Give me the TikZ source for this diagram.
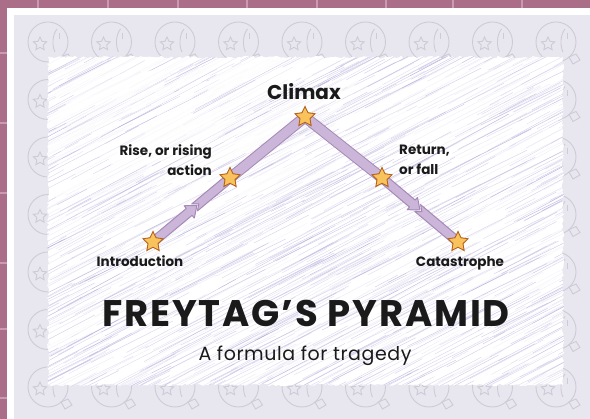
\documentclass[tikz,border=0pt]{standalone}
\usepackage{fontspec}
\setmainfont{Poppins}
\usetikzlibrary{shapes.geometric,decorations.pathmorphing,decorations.markings}

\definecolor{mauve}{HTML}{AB6E89}
\definecolor{gridpink}{HTML}{C99AB0}
\definecolor{mat}{HTML}{E8E6EE}
\definecolor{ghostgrey}{HTML}{CFCBD6}
\definecolor{hatch}{HTML}{9D90D0}
\definecolor{bandfill}{HTML}{CBB6D9}
\definecolor{bandedge}{HTML}{A58AB6}
\definecolor{stargold}{HTML}{F8C35C}
\definecolor{staredge}{HTML}{B4621D}
\definecolor{ink}{HTML}{1A1A1A}

\pgfdeclarelayer{back}
\pgfdeclarelayer{mid}
\pgfsetlayers{back,mid,main}

\tikzset{
  starnode/.style={star, star points=5, star point ratio=2.0, minimum size=21pt,
    inner sep=0pt, fill=stargold, draw=staredge, line width=0.9pt},
  bandline/.style={draw=bandedge, line width=1pt, double=bandfill, double distance=9pt},
  arrowband/.style={decoration={markings, mark=at position 0 with {
      \pgfmathsetmacro\L{\pgfdecoratedpathlength}
      \pgfmathsetmacro\A{#1*\L}
      \filldraw[bandfill, draw=bandedge, line width=1pt, line join=round]
        (0,4.5) -- (\A-10,4.5) -- (\A-10,8) -- (\A,0) -- (\A-10,-8) -- (\A-10,-4.5) -- (0,-4.5) -- cycle;
      \filldraw[bandfill, draw=bandedge, line width=1pt, line join=round]
        (\A-3,4.5) -- (\L,4.5) -- (\L,-4.5) -- (\A-3,-4.5) -- (\A+2.5,0) -- cycle;
    }}, postaction={decorate}},
  labelfont/.style={font=\fontsize{13.5}{16}\selectfont\bfseries, text=ink, inner sep=0pt},
  ghosticon/.pic={
    \draw[ghostgrey, line width=0.9pt] (0,0) circle (20);
    \node[star, star points=5, star point ratio=2.1, minimum size=14pt, inner sep=0pt,
      draw=ghostgrey, line width=0.9pt] at (-8,2) {};
    \draw[ghostgrey, line width=0.9pt] (9,-13) .. controls (4,-7) and (4,4) .. (7,10);
    \draw[ghostgrey, line width=0.9pt] (11,-9) -- (11,-3);
    \draw[ghostgrey, line width=0.9pt] (13,15) -- (20,12) -- (24,18) -- (17,22) -- cycle;
  }
}

\begin{document}
\begin{tikzpicture}[x=1pt, y=-1pt]
\useasboundingbox (0,0) rectangle (590,419);

\begin{pgfonlayer}{back}
  % tiled backdrop
  \fill[mauve] (0,0) rectangle (590,419);
  \foreach \gx in {38,108,178,247,317,386,453,522}
    \draw[gridpink, line width=1.3pt] (\gx,0) -- (\gx,419);
  \foreach \gy in {53,123,193,263,329,398}
    \draw[gridpink, line width=1.3pt] (0,\gy) -- (590,\gy);
  % white frame and grey mat
  \fill[white] (7,8) rectangle (590,419);
  \fill[mat] (14,15) rectangle (590,419);
  % faint icon wallpaper
  \foreach \cx in {0,...,8}
    \foreach \cy in {0,...,6}
      \pic at (48+63.5*\cx, 42+57.5*\cy) {ghosticon};
  % scribbled white panel
  \begin{scope}
    \path[clip, decorate, decoration={random steps, segment length=2.5pt, amplitude=1.2pt}]
      (48,57) rectangle (563,385);
    \fill[white] (0,0) rectangle (590,419);
    \pgfmathsetseed{11}
    \foreach \i in {1,...,1500}{
      \pgfmathsetmacro\xa{-60+rnd*640}
      \pgfmathsetmacro\ya{60+rnd*400}
      \pgfmathsetmacro\len{25+rnd*110}
      \pgfmathsetmacro\op{0.10+0.38*rnd}
      \pgfmathsetmacro\ang{-26-3*rnd}
      \draw[hatch, opacity=\op, line width=0.45pt] (\xa,\ya) -- ++(\ang:\len);
    }
    % lighter wash toward the upper left
    \pgfmathsetseed{5}
    \foreach \i in {1,...,90}{
      \pgfmathsetmacro\xa{0+rnd*260}
      \pgfmathsetmacro\ya{70+rnd*140}
      \pgfmathsetmacro\len{50+rnd*140}
      \draw[white, opacity=0.75, line width=3pt] (\xa,\ya) -- ++(-28:\len);
    }
    \foreach \i in {1,...,50}{
      \pgfmathsetmacro\xa{-40+rnd*600}
      \pgfmathsetmacro\ya{60+rnd*380}
      \pgfmathsetmacro\len{60+rnd*160}
      \draw[white, opacity=0.6, line width=2.5pt] (\xa,\ya) -- ++(-28:\len);
    }
  \end{scope}
\end{pgfonlayer}

% the five points of the plot
\node[starnode] (intro)  at (153,242) {};
\node[starnode] (rise)   at (230,178) {};
\node[starnode] (climax) at (305,117) {};
\node[starnode] (fall)   at (382,178) {};
\node[starnode] (cat)    at (458,242) {};

\begin{pgfonlayer}{mid}
  \path[arrowband=0.57] (intro.center) -- (rise.center);
  \draw[bandline] (rise.center) -- (climax.center);
  \draw[bandline] (climax.center) -- (fall.center);
  \path[arrowband=0.5] (fall.center) -- (cat.center);
\end{pgfonlayer}

% labels
\node[font=\fontsize{20}{24}\selectfont\bfseries, text=ink, inner sep=0pt, anchor=base] (tclimax) at (304,100) {Climax};
\node[labelfont, anchor=base east] (trise1) at (212,156) {Rise, or rising};
\node[labelfont, anchor=base east] (trise2) at (212,176) {action};
\node[labelfont, anchor=base west] (tfall1) at (399,155) {Return,};
\node[labelfont, anchor=base west] (tfall2) at (399,175) {or fall};
\node[labelfont, anchor=base] (tintro) at (140,267) {Introduction};
\node[labelfont, anchor=base] (tcat) at (460,267) {Catastrophe};

\node[font=\fontsize{37}{40}\selectfont\bfseries\addfontfeatures{LetterSpace=5}, text=ink, inner sep=0pt, anchor=base] (title) at (306,327) {FREYTAG’S PYRAMID};
\node[font=\fontsize{19}{21}\selectfont\addfontfeatures{LetterSpace=3}, text=ink, inner sep=0pt, anchor=base] (subtitle) at (305,361) {A formula for tragedy};
\end{tikzpicture}
\end{document}
